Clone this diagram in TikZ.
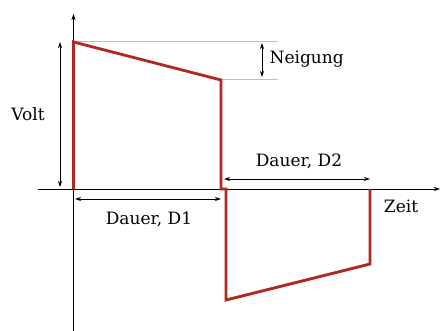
\documentclass[tikz,border=0pt]{standalone}
\usepackage{fontspec}
\setmainfont{DejaVu Serif}
\usetikzlibrary{arrows.meta, positioning, calc}
\definecolor{pulsered}{RGB}{178,40,30}
\definecolor{guidegray}{RGB}{190,190,190}

\begin{document}
\begin{tikzpicture}[x=1pt, y=1pt,
  axis/.style={-{Stealth[length=6pt, width=4pt]}, line width=0.8pt},
  pulse/.style={pulsered, line width=2.8pt, line join=miter},
  guide/.style={guidegray, line width=0.8pt},
  dimarrow/.style={{Stealth[length=6pt, width=4pt]}-{Stealth[length=6pt, width=4pt]}, line width=0.8pt},
  lbl/.style={font=\fontsize{17}{20}\selectfont, inner sep=1pt}
]
  \useasboundingbox (-73.5,-142) rectangle (367.5,189);
  % axes
  \coordinate (o) at (0,0);
  \coordinate (ybot) at (0,-142);
  \coordinate (ytop) at (0,175);
  \coordinate (xleft) at (-35,0);
  \coordinate (xright) at (366.5,0);
  \draw[axis] (ybot) -- (ytop);
  \draw[axis] (xleft) -- (xright);
  % waveform corners
  \coordinate (p1) at (0,147);
  \coordinate (p2) at (147.5,109);
  \coordinate (p3) at (147.5,0);
  \coordinate (p4) at (152.5,0);
  \coordinate (p5) at (152.5,-111);
  \coordinate (p6) at (296.5,-75);
  \coordinate (p7) at (296.5,0);
  % guide lines for the tilt
  \coordinate (g1) at (204.5,148);
  \coordinate (g2) at (204.5,110);
  \draw[guide] (0,148) -- (g1);
  \draw[guide] (p2 |- g2) -- (g2);
  \draw[pulse] (o) -- (p1) -- (p2) -- (p3) -- (p4) -- (p5) -- (p6) -- (p7);
  % dimensions
  \coordinate (n1) at (188.5,146);
  \coordinate (n2) at (188.5,112);
  \draw[dimarrow] (n1) -- (n2);
  \node[lbl, anchor=west] (neigung) at (195,130) {Neigung};
  \coordinate (v1) at (-13.5,147);
  \coordinate (v2) at (-13.5,2);
  \draw[dimarrow] (v1) -- (v2);
  \node[lbl] (volt) at (-45.5,75) {Volt};
  \coordinate (d1a) at (1.5,-10);
  \coordinate (d1b) at (147.5,-10);
  \draw[dimarrow] (d1a) -- (d1b);
  \node[lbl] (dauer1) at (75.5,-30) {Dauer, D1};
  \coordinate (d2a) at (150.5,10);
  \coordinate (d2b) at (296.5,10);
  \draw[dimarrow] (d2a) -- (d2b);
  \node[lbl] (dauer2) at (225.5,28) {Dauer, D2};
  \node[lbl] (zeit) at (327.5,-17) {Zeit};
\end{tikzpicture}
\end{document}
